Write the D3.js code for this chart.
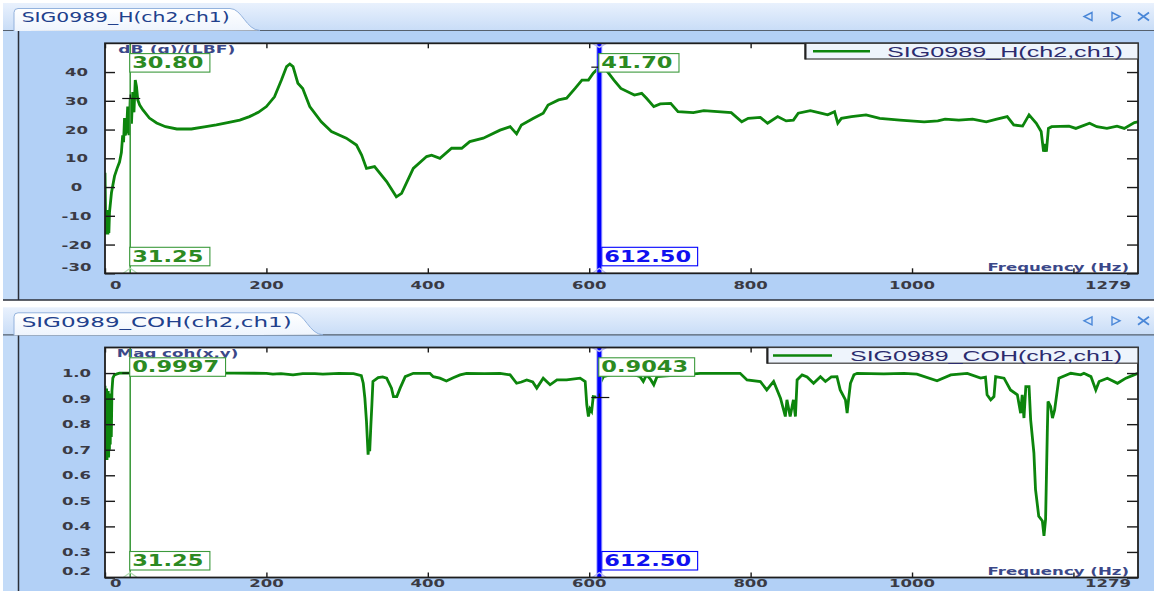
<!DOCTYPE html>
<html>
<head>
<meta charset="utf-8">
<script src="https://cdn.jsdelivr.net/npm/d3@7"></script>
<style>
  html, body { margin: 0; padding: 0; background: #ffffff; }
  svg { display: block; font-family: "DejaVu Sans", Verdana, sans-serif; }
</style>
</head>
<body>
<svg id="chart" width="1154" height="591"></svg>
<script>
// ---------- data ----------
// FRF magnitude H(ch2,ch1): frequency (Hz) and level dB (g)/(LBF)
const hFreq = [0, 0.6, 1.2, 1.8, 2.4, 3.0, 3.6, 4.2, 4.8, 5.6, 8, 11.8, 15, 18, 20.3, 21.9, 23, 24.2, 25, 26.7,
  28.1, 29.7, 31.25, 32.8, 34.4, 35.9, 37.5, 39, 40.6, 43, 47, 55, 64, 75, 89, 107, 125, 138, 152, 167,
  179, 190, 200, 210, 218.6, 225, 229, 233, 239, 245, 253.7, 268, 280.6, 299, 311.6, 318, 324, 334, 349, 361,
  367.5, 382, 398.5, 404.7, 415, 429.5, 442, 452, 468.7, 489.5, 502, 510, 516, 531, 543, 549, 562, 572, 582.5, 591,
  599, 605, 612.5, 617.8, 630.6, 639.2, 656, 665, 671, 680, 688, 701, 710, 729, 742, 759, 776, 789, 797, 812,
  821, 833.5, 844, 853, 859, 874, 887, 895.5, 904, 908, 912.5, 925, 943, 960, 985, 1015, 1032, 1041, 1058, 1075,
  1092, 1105, 1118, 1126, 1137, 1145, 1154, 1160, 1163, 1165, 1166.5, 1169, 1173, 1194.5, 1203, 1220, 1229, 1241.5, 1254, 1263,
  1275.6, 1280];
const hDb = [5, -8, -16.5, -9, -16.5, -8, -16.5, -9, -16, -8.7, -2, 3.8, 6.5, 8.7, 12, 18, 15.6, 24, 18, 19.5,
  28, 18, 30.8, 22, 33, 26, 37.2, 35, 30.3, 28.5, 26.8, 24, 22.3, 21, 20.2, 20.2, 21, 21.6, 22.4, 23.3,
  24.5, 26, 28, 31.4, 37.2, 41.9, 42.8, 41.9, 36.1, 34.3, 28, 22.7, 19.3, 17, 14.6, 11.1, 6.5, 7.1, 1.9, -3.4,
  -2.2, 6.5, 10.6, 11.1, 10, 13.5, 13.5, 15.8, 17, 19.8, 21, 18.5, 21.6, 23.9, 25.7, 28.5, 30.3, 30.9, 34.3, 37.2,
  37.2, 39.6, 41.7, 41.9, 37.2, 34.3, 32, 32.6, 30.9, 28, 28.9, 29.1, 26.2, 25.9, 26.6, 26.2, 25.9, 22.7, 23.9, 24.2,
  22.2, 24.5, 23, 23.3, 25.7, 26.6, 25.7, 25.1, 26.2, 22.2, 23.9, 24.5, 25.1, 23.9, 23.3, 22.7, 23, 23.6, 23.3, 23.6,
  22.7, 23.6, 24.5, 21.6, 21.2, 25.1, 22.2, 19.3, 12.3, 15, 12.3, 20.4, 21, 21.2, 20.4, 22.2, 21, 20.4, 21.2, 20.4,
  22.4, 22.7];

// Coherence coh(x,y): frequency (Hz) and magnitude
const cohFreq = [0, 0.5, 1.0, 1.5, 2.0, 2.5, 3.0, 3.5, 4.0, 4.5, 5.0, 5.5, 6.0, 6.5, 7.0, 7.8, 8.6, 9.7, 11.7, 15,
  18, 25, 31.25, 100, 160, 200, 208, 218, 233, 245, 260, 270, 290, 308, 317.6, 320, 322, 324, 326, 327,
  328, 329.5, 330.7, 332, 338.5, 344, 349, 355, 357.4, 361.6, 365.7, 372, 382, 402.6, 406.7, 415, 423, 431.5, 440, 448,
  470, 489.5, 502, 510, 516, 522.6, 530, 535, 543, 551.5, 560, 572, 588.7, 595, 597, 599, 601, 603, 605, 612.5,
  613.5, 617.6, 626, 646.6, 655, 663, 667, 671, 676, 680, 684, 700, 713, 737.6, 787, 795.5, 812, 820, 828.5, 837,
  843, 845, 849, 853, 855.5, 857.6, 863.8, 870, 878, 886.5, 892.7, 900, 907, 911, 917.5, 919.6, 921.5, 923.7, 928, 932,
  965, 990, 1006, 1031, 1048, 1068.5, 1085, 1091, 1093, 1097.5, 1101.5, 1103.6, 1114, 1122, 1130.5, 1134.6, 1136.5, 1138.7, 1141, 1145,
  1147, 1151, 1153, 1157, 1161.5, 1163.5, 1165.5, 1167.6, 1168.5, 1171.7, 1174, 1176.7, 1182, 1196.7, 1209, 1213, 1221.7, 1227.7, 1231.8, 1242,
  1254.6, 1265, 1275, 1280];
const cohMag = [0.95, 0.66, 0.93, 0.68, 0.94, 0.66, 0.92, 0.70, 0.93, 0.67, 0.90, 0.70, 0.92, 0.72, 0.90, 0.75, 0.93, 0.98, 0.993, 0.997,
  0.9994, 0.9997, 0.9997, 0.9997, 0.9995, 0.999, 0.996, 0.998, 0.993, 0.998, 0.998, 0.996, 0.999, 0.998, 0.99, 0.96, 0.902, 0.811, 0.681, 0.72,
  0.694, 0.80, 0.876, 0.967, 0.982, 0.985, 0.98, 0.941, 0.908, 0.908, 0.941, 0.986, 0.999, 0.999, 0.986, 0.98, 0.969, 0.982, 0.993, 0.999,
  0.998, 0.999, 0.993, 0.96, 0.965, 0.973, 0.965, 0.941, 0.98, 0.954, 0.973, 0.973, 0.98, 0.967, 0.876, 0.83, 0.86, 0.85, 0.908, 0.9043,
  0.96, 0.986, 0.993, 0.999, 0.995, 0.986, 0.967, 0.993, 0.975, 0.954, 0.986, 0.99, 0.993, 0.999, 0.999, 0.973, 0.967, 0.934, 0.967, 0.902,
  0.83, 0.895, 0.83, 0.895, 0.83, 0.973, 0.993, 0.985, 0.96, 0.986, 0.967, 0.985, 0.986, 0.934, 0.895, 0.843, 0.9, 0.96, 0.993, 0.999,
  0.997, 0.999, 0.996, 0.97, 0.993, 0.999, 0.98, 0.984, 0.915, 0.895, 0.908, 0.986, 0.98, 0.934, 0.915, 0.843, 0.915, 0.824, 0.947, 0.947,
  0.817, 0.688, 0.545, 0.44, 0.421, 0.363, 0.428, 0.766, 0.889, 0.869, 0.824, 0.856, 0.98, 0.999, 0.993, 0.999, 0.986, 0.934, 0.967, 0.98,
  0.96, 0.98, 0.993, 0.999];

// axis ticks and labels
const freqTicks = [0, 200, 400, 600, 800, 1000, 1200];
const freqLabels = [0, 200, 400, 600, 800, 1000, 1279];
const dbTicks = [-30, -20, -10, 0, 10, 20, 30, 40];
const cohTicks = [0.2, 0.3, 0.4, 0.5, 0.6, 0.7, 0.8, 0.9, 1.0];

// cursor readouts
const cursorFreqs = [31.25, 612.50];
const hCursorValues = [30.80, 41.70];
const cohCursorValues = [0.9997, 0.9043];

// ---------- drawing ----------
const svg = d3.select("#chart");
const defs = svg.append("defs");

const gStrip = defs.append("linearGradient").attr("id", "strip").attr("x1", 0).attr("y1", 0).attr("x2", 0).attr("y2", 1);
gStrip.append("stop").attr("offset", "0%").attr("stop-color", "#e9f1fd");
gStrip.append("stop").attr("offset", "100%").attr("stop-color", "#c9ddf7");
const gTab = defs.append("linearGradient").attr("id", "tab").attr("x1", 0).attr("y1", 0).attr("x2", 0).attr("y2", 1);
gTab.append("stop").attr("offset", "0%").attr("stop-color", "#ffffff");
gTab.append("stop").attr("offset", "100%").attr("stop-color", "#eef4fd");

const x = d3.scaleLinear().domain([0, 1280]).range([105, 1138]);
const plotLeft = 105, plotRight = 1138;

// text stretched horizontally to a width (explicit or factor of natural width)
function label(g, str, px, py, o) {
  const t = g.append("text")
    .text(str)
    .attr("y", py)
    .attr("font-size", o.size)
    .attr("font-weight", o.weight || "normal")
    .attr("font-family", o.family || "'DejaVu Sans', Verdana, sans-serif")
    .attr("fill", o.fill);
  const natural = t.node().getComputedTextLength();
  const w = o.width || natural * (o.factor || 1.5);
  let left = px;
  if (o.anchor === "middle") left = px - w / 2;
  if (o.anchor === "end") left = px - w;
  if (o.minLeft !== undefined) left = Math.max(left, o.minLeft);
  if (o.maxRight !== undefined) left = Math.min(left, o.maxRight - w);
  t.attr("x", left).attr("textLength", w).attr("lengthAdjust", "spacingAndGlyphs");
  return { t, left, w };
}

function panel(cfg) {
  const g = svg.append("g").attr("transform", `translate(0,${cfg.dy})`);
  const top = cfg.plotTop, bottom = cfg.plotBottom;
  const y = d3.scaleLinear().domain(cfg.yDomain).range([bottom, top]);

  // frame background
  g.append("rect").attr("x", 3).attr("y", 3).attr("width", 1151).attr("height", 27).attr("fill", "url(#strip)");
  g.append("rect").attr("x", 3).attr("y", 30).attr("width", 1151).attr("height", 270).attr("fill", "#b2d0f6");
  g.append("rect").attr("x", 3).attr("y", 30).attr("width", 15).attr("height", 270).attr("fill", "#c3dbf8");
  g.append("line").attr("x1", 3).attr("x2", 1154).attr("y1", 30.5).attr("y2", 30.5).attr("stroke", "#55606e").attr("stroke-width", 1.2);
  g.append("line").attr("x1", 18.5).attr("x2", 18.5).attr("y1", 31).attr("y2", 300).attr("stroke", "#2b2f38").attr("stroke-width", 1.5);
  if (cfg.bottomRule) {
    g.append("line").attr("x1", 3).attr("x2", 1154).attr("y1", 300).attr("y2", 300).attr("stroke", "#2b2f38").attr("stroke-width", 1.5);
  }

  // tab
  const tr = cfg.tabRight;
  g.append("path")
    .attr("d", `M14,31 L14,12.5 Q14,8.5 18,8.5 L${tr},8.5 C${tr + 12},8.5 ${tr + 16},30 ${tr + 30},30.5`)
    .attr("fill", "url(#tab)").attr("stroke", "#93b2dd").attr("stroke-width", 1);
  label(g, cfg.tabText, 21.7, 22.3, { size: 14, fill: "#21408c", width: cfg.tabTextW });

  // strip icons
  const ic = g.append("g").attr("fill", "none").attr("stroke", "#4a87d8").attr("stroke-width", 1.4);
  ic.append("path").attr("d", "M1092,12.5 L1084,16.5 L1092,20.5 Z");
  ic.append("path").attr("d", "M1112,12.5 L1120,16.5 L1112,20.5 Z");
  ic.append("path").attr("d", "M1138,12.5 L1149,20.5 M1149,12.5 L1138,20.5").attr("stroke-width", 1.8);

  // plot area
  g.append("rect").attr("x", plotLeft).attr("y", top).attr("width", plotRight - plotLeft).attr("height", bottom - top).attr("fill", "#ffffff");
  const clipId = "clip" + cfg.dy.toFixed(0);
  defs.append("clipPath").attr("id", clipId).append("rect")
    .attr("x", plotLeft).attr("y", top).attr("width", plotRight - plotLeft).attr("height", bottom - top);

  // axis title and frequency label
  label(g, cfg.yTitle, cfg.yTitleX, top + 10, { size: 11, weight: "bold", fill: "#3b4889", width: cfg.yTitleW });
  label(g, "Frequency (Hz)", 987.5, bottom - 2.6, { size: 11, weight: "bold", fill: "#3b4889", width: 141.5 });

  // data line
  const pts = cfg.freq.map((f, i) => [f, cfg.vals[i]]);
  g.append("path").datum(pts)
    .attr("clip-path", `url(#${clipId})`)
    .attr("fill", "none").attr("stroke", "#0c850c").attr("stroke-width", 2.8).attr("stroke-linejoin", "miter")
    .attr("d", d3.line().x(d => x(d[0])).y(d => y(d[1])));

  // cursors
  const cx0 = x(cursorFreqs[0]), cx1 = x(cursorFreqs[1]);
  g.append("line").attr("x1", cx0).attr("x2", cx0).attr("y1", top).attr("y2", bottom).attr("stroke", "#3f9b3f").attr("stroke-width", 1.6);
  g.append("line").attr("x1", cx1).attr("x2", cx1).attr("y1", top).attr("y2", bottom).attr("stroke", "#a9a9ff").attr("stroke-width", 6);
  g.append("line").attr("x1", cx1).attr("x2", cx1).attr("y1", top).attr("y2", bottom).attr("stroke", "#0000ff").attr("stroke-width", 4);
  g.append("path").attr("d", `M${cx1 - 7},${top} L${cx1},${top + 4} L${cx1 + 7},${top}`).attr("fill", "none").attr("stroke", "#b9b9f3").attr("stroke-width", 1.5);
  g.append("path").attr("d", `M${cx0 - 7},${bottom} L${cx0},${bottom - 5} L${cx0 + 7},${bottom}`).attr("fill", "none").attr("stroke", "#b3dcb3").attr("stroke-width", 1.3);
  g.append("path").attr("d", `M${cx1 - 7},${bottom} L${cx1},${bottom - 5} L${cx1 + 7},${bottom}`).attr("fill", "none").attr("stroke", "#b9b9f3").attr("stroke-width", 1.3);

  // crosshairs at readout values
  cfg.cursorVals.forEach((v, i) => {
    const cx = x(cursorFreqs[i]), cy = y(v);
    g.append("line").attr("x1", cx - 8).attr("x2", cx + 10).attr("y1", cy).attr("y2", cy).attr("stroke", "#111").attr("stroke-width", 1.2);
    g.append("line").attr("x1", cx).attr("x2", cx).attr("y1", cy - 4).attr("y2", cy).attr("stroke", "#111").attr("stroke-width", 1.2);
  });

  // readout boxes
  function box(str, bx, cyMid, color, textColor) {
    const tmp = label(g, str, bx + 3, cyMid + 5.5, { size: 15, weight: "bold", fill: textColor, factor: 1.5 });
    g.insert("rect", () => tmp.t.node())
      .attr("x", bx + 0.5).attr("y", cyMid - 9).attr("width", tmp.w + 9).attr("height", 18.5)
      .attr("fill", "#ffffff").attr("stroke", color).attr("stroke-width", 1.1);
  }
  box(cfg.fmt(cfg.cursorVals[0]), cx0 - 1, top + 19.3, "#3c9a3c", "#2c8a22");
  box(cfg.fmt(cfg.cursorVals[1]), cx1 - 1, top + 19.3, "#3c9a3c", "#2c8a22");
  box(d3.format(".2f")(cursorFreqs[0]), cx0 - 1, bottom - 17, "#3c9a3c", "#2c8a22");
  box(d3.format(".2f")(cursorFreqs[1]), cx1 + 2, bottom - 17, "#0000ff", "#1010f0");

  // ticks (inward)
  const tickStyle = s => s.call(a => a.select(".domain").remove())
    .call(a => a.selectAll("line").attr("stroke", "#1a1a1a").attr("stroke-width", 1.4));
  g.append("g").attr("transform", `translate(${plotLeft},0)`)
    .call(d3.axisLeft(y).tickValues(cfg.yTicks).tickSize(-10).tickFormat("")).call(tickStyle);
  g.append("g").attr("transform", `translate(${plotRight},0)`)
    .call(d3.axisRight(y).tickValues(cfg.yTicks).tickSize(-11).tickFormat("")).call(tickStyle);
  g.append("g").attr("transform", `translate(0,${bottom})`)
    .call(d3.axisBottom(x).tickValues(freqTicks).tickSize(-5).tickFormat("")).call(tickStyle);
  g.append("g").attr("transform", `translate(0,${top})`)
    .call(d3.axisTop(x).tickValues(freqTicks).tickSize(-5).tickFormat("")).call(tickStyle);

  // plot border
  g.append("rect").attr("x", plotLeft).attr("y", top).attr("width", plotRight - plotLeft).attr("height", bottom - top)
    .attr("fill", "none").attr("stroke", "#1e1e1e").attr("stroke-width", 1.8);

  // tick labels
  cfg.yTicks.forEach(v => {
    const cy = Math.min(y(v), bottom - 6.5);
    label(g, cfg.tickFmt(v), 76.5, cy + 4, { size: 11, weight: "bold", fill: "#3a3a44", anchor: "middle" });
  });
  freqLabels.forEach(v => {
    label(g, String(v), x(v), bottom + cfg.xLabelDrop, { size: 11, weight: "bold", fill: "#3a3a44", anchor: "middle", minLeft: 110, maxRight: 1131 });
  });

  // legend
  const L = cfg.legend;
  g.append("rect").attr("x", L.x0).attr("y", top).attr("width", plotRight - L.x0).attr("height", 15.7)
    .attr("fill", "#eef4fc").attr("stroke", "#3a3a3a").attr("stroke-width", 1.2);
  g.append("line").attr("x1", L.x0 + 0.5).attr("x2", L.x0 + 0.5).attr("y1", top).attr("y2", top + 16)
    .attr("stroke", "#222").attr("stroke-width", 2);
  g.append("line").attr("x1", L.lineX0).attr("x2", L.lineX1).attr("y1", top + 8).attr("y2", top + 8)
    .attr("stroke", "#0c850c").attr("stroke-width", 2.6);
  label(g, cfg.legendText, L.textX, top + 13.5, { size: 15, fill: "#2b2b6e", family: "'Liberation Sans', Arial, sans-serif", width: L.textW });
}

panel({
  dy: 0, plotTop: 43.3, plotBottom: 273.3, yDomain: [-30, 50], yTicks: dbTicks,
  tickFmt: v => String(v), fmt: d3.format(".2f"),
  freq: hFreq, vals: hDb, cursorVals: hCursorValues,
  tabText: "SIG0989_H(ch2,ch1)", tabTextW: 208, tabRight: 230,
  yTitle: "dB (g)/(LBF)", yTitleX: 118.3, yTitleW: 117,
  legendText: "SIG0989_H(ch2,ch1)",
  legend: { x0: 805, lineX0: 813, lineX1: 870, textX: 887, textW: 236 },
  bottomRule: true, xLabelDrop: 15.7
});
panel({
  dy: 304.3, plotTop: 43.2, plotBottom: 273.2, yDomain: [0.2, 1.1], yTicks: cohTicks,
  tickFmt: d3.format(".1f"), fmt: d3.format(".4f"),
  freq: cohFreq, vals: cohMag, cursorVals: cohCursorValues,
  tabText: "SIG0989_COH(ch2,ch1)", tabTextW: 270, tabRight: 293,
  yTitle: "Mag coh(x,y)", yTitleX: 116.7, yTitleW: 121.6,
  legendText: "SIG0989_COH(ch2,ch1)",
  legend: { x0: 767, lineX0: 773, lineX1: 832, textX: 850, textW: 272 },
  bottomRule: false, xLabelDrop: 10
});
</script>
</body>
</html>
